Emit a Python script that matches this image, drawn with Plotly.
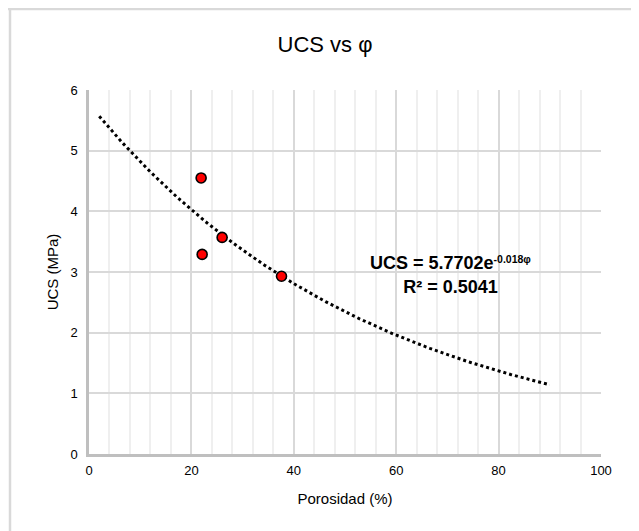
import numpy as np
import plotly.graph_objects as go

# measured samples
porosidad = [21.9, 22.1, 26.0, 37.6]
ucs = [4.55, 3.29, 3.57, 2.93]

# exponential trendline as printed on the chart: UCS = a * exp(b * phi)
trend_a = 5.7702
trend_b = -0.018
trend_start = 2.0
trend_end = 90.0
r2_label = "0.5041"

x_ticks = [0, 20, 40, 60, 80, 100]
y_ticks = [0, 1, 2, 3, 4, 5, 6]

# the page body adds an 8px offset, so the figure is a bit smaller
W, H = 631, 523
ML, MR, MT, MB = 81, 38, 82, 77
PW, PH = W - ML - MR, H - MT - MB

FONT = "Liberation Sans, Arial, sans-serif"

tx = np.linspace(trend_start, trend_end, 200)
ty = trend_a * np.exp(trend_b * tx)

fig = go.Figure()
fig.add_trace(go.Scatter(
    x=tx, y=ty, mode="lines",
    line=dict(color="black", width=3, dash="dot"),
    hoverinfo="skip", showlegend=False,
))
fig.add_trace(go.Scatter(
    x=porosidad, y=ucs, mode="markers",
    marker=dict(color="#ff0000", size=10, line=dict(color="black", width=1.6)),
    showlegend=False,
))

fig.add_annotation(
    x=70.7, y=2.95, xref="x", yref="y",
    text=(f"<b>UCS = {trend_a:.4f}e<span style='font-size:15px'><sup>{trend_b:.3f}φ</sup></span></b>"
          f"<br><b>R² = {r2_label}</b>"),
    showarrow=False, align="center",
    font=dict(family=FONT, size=18, color="black"),
)

# outer chart-area frame (top and left edges visible)
fy = (H - MB - 1) / PH
fx = (2 - ML) / PW
fig.add_shape(type="line", xref="paper", yref="paper", x0=-1, x1=2, y0=fy, y1=fy,
              line=dict(color="#d9d9d9", width=2.5))
fig.add_shape(type="line", xref="paper", yref="paper", x0=fx, x1=fx, y0=-1, y1=fy,
              line=dict(color="#d9d9d9", width=2.5))

fig.update_xaxes(
    range=[0, 100], tickvals=x_ticks,
    ticks="outside", ticklen=3, tickcolor="rgba(0,0,0,0)",
    showgrid=True, gridcolor="#d9d9d9", gridwidth=1.5,
    minor=dict(dtick=4, showgrid=True, gridcolor="#efefef", gridwidth=1.5),
    showline=True, linecolor="#bfbfbf", linewidth=2.5,
    zeroline=False,
    tickfont=dict(family=FONT, size=13, color="black"),
    title=dict(text="Porosidad (%)", font=dict(family=FONT, size=15, color="black"), standoff=17),
)
fig.update_yaxes(
    range=[0, 6], tickvals=y_ticks,
    ticks="outside", ticklen=6, tickcolor="rgba(0,0,0,0)",
    showgrid=True, gridcolor="#d9d9d9", gridwidth=1.5,
    showline=True, linecolor="#bfbfbf", linewidth=2.5,
    zeroline=False,
    tickfont=dict(family=FONT, size=13, color="black"),
    title=dict(text="UCS (MPa)", font=dict(family=FONT, size=15, color="black"), standoff=9),
)

fig.update_layout(
    width=W, height=H,
    margin=dict(l=ML, r=MR, t=MT, b=MB),
    paper_bgcolor="white", plot_bgcolor="white",
    title=dict(text="UCS vs φ", x=317 / W, xanchor="center", xref="container",
               y=1 - 36 / H, yanchor="middle", yref="container",
               font=dict(family=FONT, size=22, color="black")),
)

fig.write_html("out.html")
